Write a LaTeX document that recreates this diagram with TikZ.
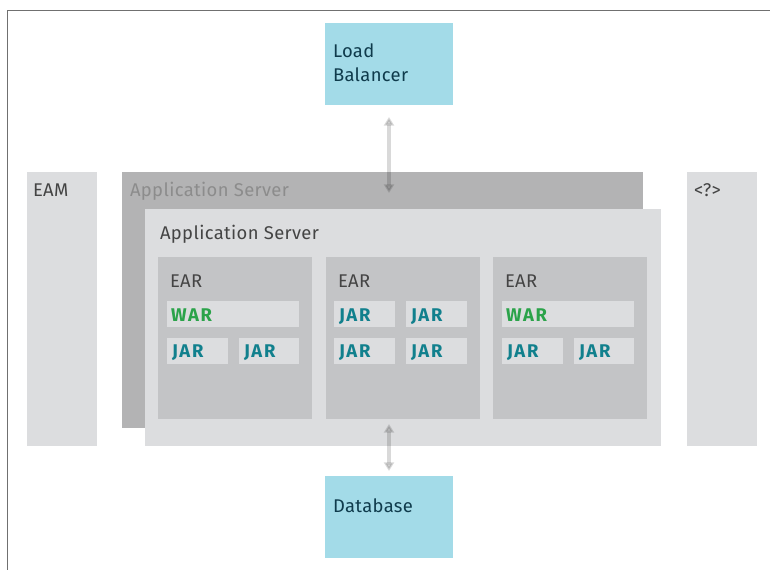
\documentclass[tikz,border=0pt]{standalone}
\usepackage{fontspec}
\setmainfont{Fira Sans}
\usetikzlibrary{arrows.meta}
\definecolor{lgray}{HTML}{DCDDDF}
\definecolor{dgray}{HTML}{B3B3B4}
\definecolor{eargray}{HTML}{C3C4C6}
\definecolor{lblue}{HTML}{A3DBE8}
\definecolor{navy}{HTML}{0F3B4C}
\definecolor{backtxt}{HTML}{8C8C8C}
\definecolor{fronttxt}{HTML}{444444}
\definecolor{teal}{HTML}{11808D}
\definecolor{wargreen}{HTML}{2BA34A}
\definecolor{framegray}{HTML}{707070}
\tikzset{
  box/.style={inner sep=0, outer sep=0},
  lbl/.style={anchor=base west, inner sep=0, outer sep=0, font=\fontsize{13.8}{16}\selectfont\addfontfeature{LetterSpace=2}},
  bold/.style={lbl, font=\fontsize{13.8}{16}\selectfont\bfseries\addfontfeature{LetterSpace=9}},
  conn/.style={line width=2.8pt, draw=black, opacity=0.15, {Triangle[width=7.5pt,length=6.5pt]}-{Triangle[width=7.5pt,length=6.5pt]}}
}
\begin{document}
\begin{tikzpicture}[x=0.75pt,y=-0.75pt]
\useasboundingbox (0,0) rectangle (770,570);
\fill[white] (0,0) rectangle (770,570);
% frame
\draw[framegray, line width=1.2pt] (7.5,570) -- (7.5,10.5) -- (770,10.5);
% side boxes
\fill[lgray] (27,172) rectangle (97,446);
\node[box] (eam) at (62,309) {};
\node[lbl, fronttxt] (eamt) at (33,197) {EAM};
\fill[lgray] (687,172) rectangle (757,446);
\node[box] (unk) at (722,309) {};
\node[lbl, fronttxt] (unkt) at (694,197) {<?>};
% back app server
\fill[dgray] (122,172) rectangle (643,428);
\coordinate (backtop) at (389,172);
\node[lbl, backtxt] (backt) at (130,197) {Application Server};
% front app server
\fill[lgray] (145,209) rectangle (661,446);
\coordinate (frontbot) at (389,446);
\node[lbl, fronttxt] (frontt) at (160,239) {Application Server};
% EARs
\foreach \dx/\n in {0/1,168/2,335/3}{
  \fill[eargray] ({158+\dx},257) rectangle ({312+\dx},419);
  \node[lbl, fronttxt] (ear\n) at ({170+\dx},287) {EAR};
}
% EAR1
\fill[lgray] (167,301) rectangle (299,327);
\node[bold, wargreen] (war1) at (171,321) {WAR};
\fill[lgray] (167,338) rectangle (228,364);
\node[bold, teal] (j11) at (172,357) {JAR};
\fill[lgray] (239,338) rectangle (299,364);
\node[bold, teal] (j12) at (244,357) {JAR};
% EAR2
\fill[lgray] (334,301) rectangle (395,327);
\node[bold, teal] (j21) at (339,321) {JAR};
\fill[lgray] (406,301) rectangle (467,327);
\node[bold, teal] (j22) at (411,321) {JAR};
\fill[lgray] (334,338) rectangle (395,364);
\node[bold, teal] (j23) at (339,357) {JAR};
\fill[lgray] (406,338) rectangle (467,364);
\node[bold, teal] (j24) at (411,357) {JAR};
% EAR3
\fill[lgray] (502,301) rectangle (634,327);
\node[bold, wargreen] (war3) at (506,321) {WAR};
\fill[lgray] (502,338) rectangle (563,364);
\node[bold, teal] (j31) at (507,357) {JAR};
\fill[lgray] (574,338) rectangle (634,364);
\node[bold, teal] (j32) at (579,357) {JAR};
% load balancer
\fill[lblue] (325,23) rectangle (453,105);
\node[lbl, navy] (lb1) at (333,58) {Load};
\node[lbl, navy] (lb2) at (333,82) {Balancer};
\coordinate (lbtop) at (389,117);
\coordinate (lbbot) at (389,193);
% database
\fill[lblue] (325,476) rectangle (453,558);
\node[lbl, navy] (db) at (333,512) {Database};
\coordinate (dbtop) at (389,424);
\coordinate (dbbot) at (389,471);
% connectors
\draw[conn] (lbtop) -- (lbbot);
\draw[conn] (dbtop) -- (dbbot);
\end{tikzpicture}
\end{document}
